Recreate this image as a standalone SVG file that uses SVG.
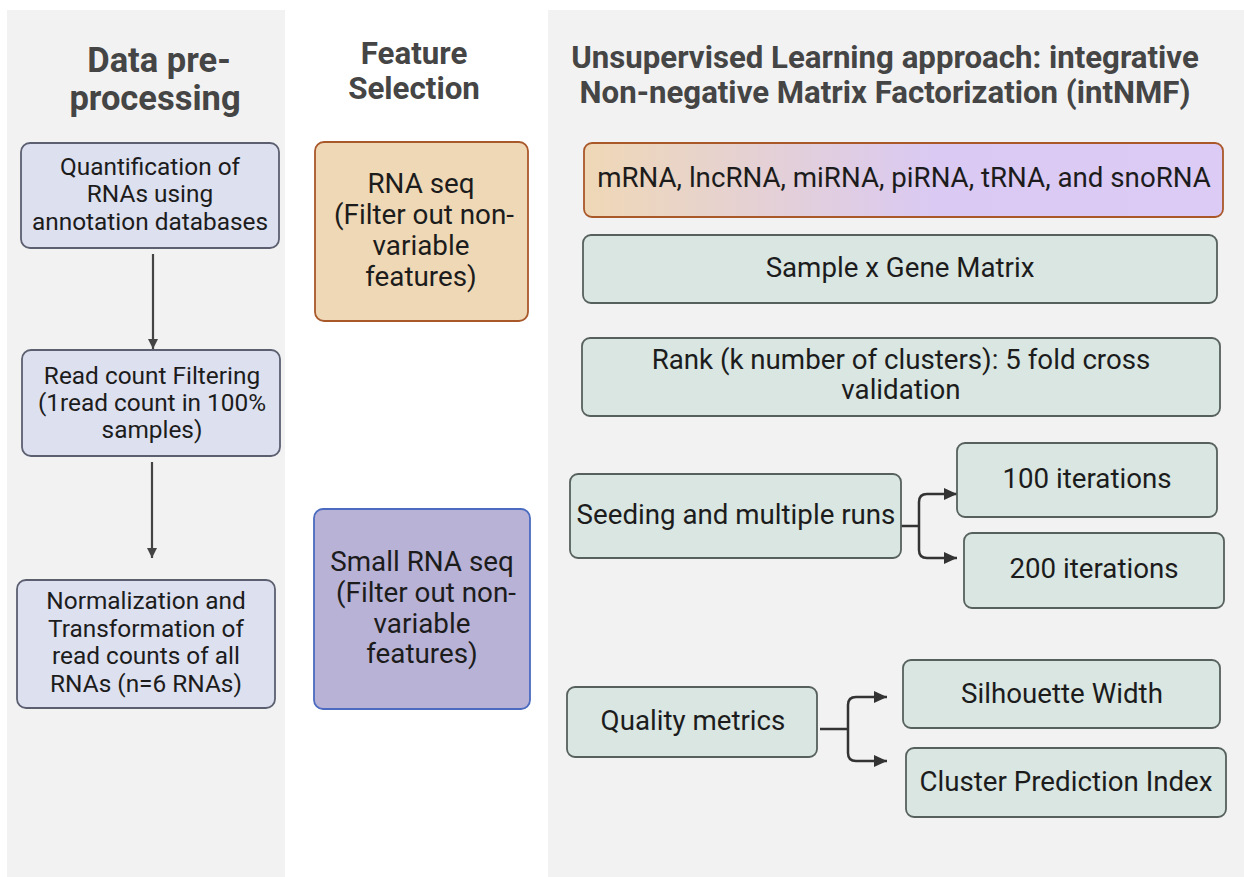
<svg xmlns="http://www.w3.org/2000/svg" width="1244" height="877" viewBox="0 0 1244 877">
<defs>
<linearGradient id="grad" x1="0" y1="0" x2="1" y2="0">
<stop offset="0" stop-color="#efd8b6"/>
<stop offset="0.55" stop-color="#dac9f3"/>
<stop offset="1" stop-color="#dccbf5"/>
</linearGradient>
<marker id="ah" viewBox="0 0 10 10" refX="10" refY="5" markerWidth="10" markerHeight="10" markerUnits="userSpaceOnUse" orient="auto">
<path d="M0,0 L10,5 L0,10 Z" fill="#444"/>
</marker>
<marker id="ah2" viewBox="0 0 13 12" refX="13" refY="6" markerWidth="13" markerHeight="12" markerUnits="userSpaceOnUse" orient="auto">
<path d="M0,0 L13,6 L0,12 Z" fill="#333"/>
</marker>
</defs>
<style>
.panel{fill:#f2f2f2}
.h{font-family:Roboto,"Liberation Sans",sans-serif;font-weight:bold;fill:#454545;text-anchor:middle}
.t{font-family:Roboto,"Liberation Sans",sans-serif;fill:#1c1c1c;text-anchor:middle}
.l{font-size:24.4px}
.m{font-size:27.8px}
.r{font-size:27.7px}
.lb{fill:#dde0ef;stroke:#5b5f70;stroke-width:1.8}
.tb{fill:#d9e6e2;stroke:#56605d;stroke-width:1.8}
.c1{fill:none;stroke:#444;stroke-width:2.2}
.c2{fill:none;stroke:#333;stroke-width:2.5}
</style>
<rect width="1244" height="877" fill="#ffffff"/>
<rect class="panel" x="7" y="10" width="278" height="867"/>
<rect class="panel" x="548" y="10" width="696" height="867"/>

<g id="headings">
<text class="h" font-size="34.5" x="159" y="72">Data pre-</text>
<text class="h" font-size="34.5" x="155" y="110">processing</text>
<text class="h" font-size="31.3" x="414" y="64">Feature</text>
<text class="h" font-size="31.3" x="414" y="99">Selection</text>
<text class="h" font-size="31.2" x="885" y="68">Unsupervised Learning approach: integrative</text>
<text class="h" font-size="31.2" x="885" y="103">Non-negative Matrix Factorization (intNMF)</text>
</g>

<g id="connectors">
<line class="c1" x1="153" y1="254" x2="153" y2="349" marker-end="url(#ah)"/>
<line class="c1" x1="152" y1="462" x2="152" y2="558" marker-end="url(#ah)"/>
<path class="c2" d="M901,526 H919"/>
<path class="c2" d="M919,526 V502 Q919,494 927,494 H957" marker-end="url(#ah2)"/>
<path class="c2" d="M919,526 V550 Q919,558 927,558 H957" marker-end="url(#ah2)"/>
<path class="c2" d="M820,729 H848"/>
<path class="c2" d="M848,729 V705 Q848,697 856,697 H887" marker-end="url(#ah2)"/>
<path class="c2" d="M848,729 V753 Q848,761 856,761 H887" marker-end="url(#ah2)"/>
</g>

<g id="n-quant">
<rect class="lb" x="21" y="143" width="258" height="105" rx="9"/>
<text class="t l" x="150" y="175">Quantification of</text>
<text class="t l" x="150" y="202">RNAs using</text>
<text class="t l" x="150" y="230">annotation databases</text>
</g>
<g id="n-filter">
<rect class="lb" x="22" y="350" width="258" height="106" rx="9"/>
<text class="t l" x="152" y="384">Read count Filtering</text>
<text class="t l" x="152" y="411">(1read count in 100%</text>
<text class="t l" x="152" y="438">samples)</text>
</g>
<g id="n-norm">
<rect class="lb" x="17" y="580" width="258" height="128" rx="9"/>
<text class="t l" x="146" y="609">Normalization and</text>
<text class="t l" x="146" y="637">Transformation of</text>
<text class="t l" x="146" y="664">read counts of all</text>
<text class="t l" x="146" y="692">RNAs (n=6 RNAs)</text>
</g>

<g id="n-rnaseq">
<rect x="315" y="142" width="213" height="179" rx="9" fill="#efd8b6" stroke="#a9582a" stroke-width="1.8"/>
<text class="t m" x="421" y="193">RNA seq</text>
<text class="t m" x="424" y="224">(Filter out non-</text>
<text class="t m" x="421" y="255">variable</text>
<text class="t m" x="421" y="286">features)</text>
</g>
<g id="n-smallrna">
<rect x="314" y="509" width="216" height="200" rx="9" fill="#b8b2d6" stroke="#4a6bbf" stroke-width="1.8"/>
<text class="t m" x="422" y="571">Small RNA seq</text>
<text class="t m" x="426" y="602">(Filter out non-</text>
<text class="t m" x="422" y="633">variable</text>
<text class="t m" x="422" y="663">features)</text>
</g>

<g id="n-rnatypes">
<rect x="584" y="143" width="639" height="74" rx="8" fill="url(#grad)" stroke="#a9582a" stroke-width="1.8"/>
<text class="t r" x="904" y="187">mRNA, lncRNA, miRNA, piRNA, tRNA, and snoRNA</text>
</g>
<g id="n-matrix">
<rect class="tb" x="583" y="235" width="634" height="68" rx="8"/>
<text class="t r" x="900" y="277">Sample x Gene Matrix</text>
</g>
<g id="n-rank">
<rect class="tb" x="582" y="338" width="638" height="78" rx="8"/>
<text class="t r" x="901" y="369">Rank (k number of clusters): 5 fold cross</text>
<text class="t r" x="901" y="399">validation</text>
</g>
<g id="n-seeding">
<rect class="tb" x="570" y="474" width="331" height="84" rx="8"/>
<text class="t r" x="736" y="524">Seeding and multiple runs</text>
</g>
<g id="n-100">
<rect class="tb" x="957" y="443" width="260" height="74" rx="8"/>
<text class="t r" x="1087" y="488">100 iterations</text>
</g>
<g id="n-200">
<rect class="tb" x="964" y="533" width="260" height="75" rx="8"/>
<text class="t r" x="1094" y="578">200 iterations</text>
</g>
<g id="n-quality">
<rect class="tb" x="567" y="687" width="250" height="70" rx="8"/>
<text class="t r" x="693" y="730">Quality metrics</text>
</g>
<g id="n-silhouette">
<rect class="tb" x="903" y="660" width="317" height="68" rx="8"/>
<text class="t r" x="1062" y="703">Silhouette Width</text>
</g>
<g id="n-cpi">
<rect class="tb" x="906" y="748" width="320" height="69" rx="8"/>
<text class="t r" x="1066" y="791">Cluster Prediction Index</text>
</g>
</svg>
